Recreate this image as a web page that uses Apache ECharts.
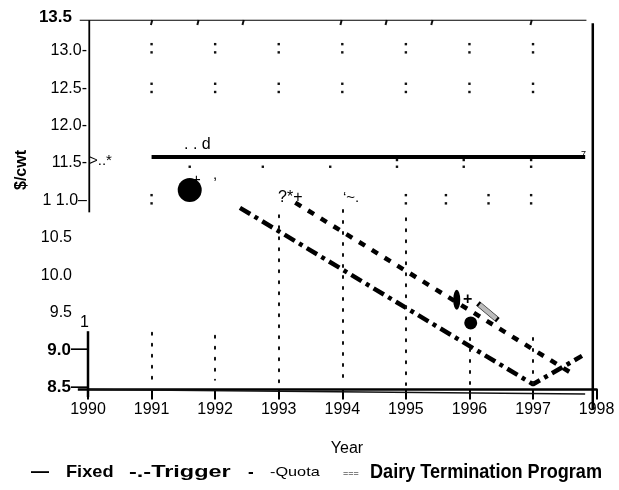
<!DOCTYPE html>
<html>
<head>
<meta charset="utf-8">
<script src="https://cdn.jsdelivr.net/npm/echarts@6/dist/echarts.min.js"></script>
<style>
  html, body { margin: 0; padding: 0; background: #fff; }
  #chart { width: 619px; height: 490px; }
</style>
</head>
<body>
<div id="chart"></div>
<script>
// Milk support price scenarios, $/cwt by year
const years = [1990, 1991, 1992, 1993, 1994, 1995, 1996, 1997, 1998];
const yTicks = [8.5, 9.0, 9.5, 10.0, 10.5, 11.0, 11.5, 12.0, 12.5, 13.0, 13.5];

const fixedPrice   = [[1991.0, 11.58], [1997.82, 11.58]];
const triggerPrice = [[1992.39, 10.90], [1997.0, 8.54], [1997.77, 8.92]];
const quotaPrice   = [[1993.26, 10.97], [1997.66, 8.66]];
const dtpPrice     = [[1990.0, 8.47], [1997.82, 8.41]];

// vertical dotted year guides: [year, from, to]
const yearGuides = [
  [1991, 9.23, 8.60], [1992, 9.19, 8.60], [1993, 10.80, 8.53],
  [1994, 10.87, 8.53], [1995, 10.76, 8.53], [1996, 9.16, 8.53], [1997, 9.16, 8.53]
];
// plot frame pieces: [x1, y1, x2, y2, width]
const framePieces = [
  [1989.87, 13.41, 1997.84, 13.41, 1.2],
  [1997.94, 13.37, 1997.94, 8.20, 2.5],
  [1990.02, 13.41, 1990.02, 10.84, 1.8],
  [1990.0, 9.25, 1990.0, 8.37, 2.5],
  [1989.84, 8.47, 1990.0, 8.47, 2.5]
];
// remnants of the dotted grid
const gridDots = [
  [1991, 13.09], [1991, 12.98], [1992, 13.09], [1992, 12.98], [1993, 13.09], [1993, 12.98],
  [1994, 13.09], [1994, 12.98], [1995, 13.09], [1995, 12.98], [1996, 13.09], [1996, 12.98],
  [1997, 13.09], [1997, 12.98],
  [1991, 12.56], [1991, 12.45], [1992, 12.56], [1992, 12.45], [1993, 12.56], [1993, 12.45],
  [1994, 12.56], [1994, 12.45], [1995, 12.56], [1995, 12.45], [1996, 12.56], [1996, 12.45],
  [1997, 12.56], [1997, 12.45],
  [1991, 11.07], [1991, 10.96], [1995, 11.07], [1995, 10.96], [1995.63, 11.07], [1995.63, 10.96],
  [1996.3, 11.07], [1996.3, 10.96], [1996.97, 11.07], [1996.97, 10.96],
  [1991.6, 11.45], [1992.75, 11.45], [1993.81, 11.45], [1994.86, 11.45], [1995.91, 11.45], [1996.97, 11.45],
  [1994.86, 11.54], [1995.91, 11.54], [1996.97, 11.54]
];
const commaMarks = [
  [1991.0, 13.38], [1991.73, 13.38], [1992.44, 13.38], [1993.98, 13.38],
  [1994.69, 13.38], [1995.41, 13.38], [1996.97, 13.38]
];
const blobs = [
  { value: [1991.60, 11.14], size: 24 },
  { value: [1996.02, 9.36], size: 13 },
  { value: [1995.80, 9.67], size: [7, 20] }
];

const chart = echarts.init(document.getElementById('chart'), null, { renderer: 'canvas' });
const FONT = "'Liberation Sans', Arial, sans-serif";

function yLabel(v) {
  const s = v.toFixed(1);
  if (v === 13.5) return '{top|' + s + '}{pad|}';
  if (v === 9.0 || v === 8.5) return '{b|' + s + '}{t|—}';
  if (v === 11.0) return '{n|1 1.0–}';
  if (v >= 11.5) return '{n|' + s + '-}';
  return '{n|' + s + '}{pad|}';
}

const guideLines = yearGuides.map(g => [
  { coord: [g[0], g[1]], lineStyle: { type: [2, 9], width: 2, color: '#111', cap: 'round' } },
  { coord: [g[0], g[2]] }
]);

function txt(x, y, text, font, align, sx) {
  return {
    type: 'text', x: x, y: y, scaleX: sx || 1, silent: true,
    style: { text: text, font: font, fill: '#000',
      textAlign: align || 'left', textVerticalAlign: 'middle',
      align: align || 'left', verticalAlign: 'middle' }
  };
}

const labels = [
  { type: 'text', x: 22, y: 170, rotation: Math.PI / 2, silent: true,
    style: { text: '$/cwt', font: "bold 16px " + FONT, fill: '#000',
      textAlign: 'center', textVerticalAlign: 'middle', align: 'center', verticalAlign: 'middle' } },
  txt(347, 449, 'Year', '16px ' + FONT, 'center'),
  // legend row
  txt(31, 472, '—', 'bold 18px ' + FONT),
  txt(66, 472, 'Fixed', 'bold 17px ' + FONT, 'left', 1.07),
  txt(129, 472, '-.-Trigger', 'bold 17px ' + FONT, 'left', 1.38),
  txt(248, 472, '-', 'bold 17px ' + FONT),
  txt(270, 472, '-Quota', '13px ' + FONT, 'left', 1.25),
  txt(343, 474, '===', '9px ' + FONT),
  txt(370, 472, 'Dairy Termination Program', 'bold 20px ' + FONT, 'left', 0.905),
  // stray marks
  txt(184, 145, '. . d', '16px ' + FONT),
  txt(89, 161, '>..*', '15px ' + FONT),
  txt(192, 180, '+', '15px ' + FONT),
  txt(213, 175, ',', '15px ' + FONT),
  txt(278, 198, '?*+', '16px ' + FONT),
  txt(343, 198, '‘~.', '15px ' + FONT),
  txt(80, 323, '1', '16px ' + FONT),
  txt(581, 155, '7', '9px ' + FONT),
  txt(463, 300, '+', 'bold 16px ' + FONT)
];

chart.setOption({
  animation: false,
  backgroundColor: '#fff',
  grid: { left: 88, right: 22.4, top: 13.5, bottom: 100.5 },
  xAxis: {
    type: 'value', min: 1990, max: 1998, interval: 1,
    axisLine: { show: true, lineStyle: { color: '#000', width: 2.5 } },
    axisTick: { show: true, length: 10, lineStyle: { color: '#000', width: 2 } },
    axisLabel: { color: '#000', fontSize: 16, fontFamily: FONT, margin: 12,
      formatter: v => String(v) },
    splitLine: { show: false }
  },
  yAxis: {
    type: 'value', min: 8.47, max: 13.5,
    axisLine: { show: false }, axisTick: { show: false }, splitLine: { show: false },
    axisLabel: {
      customValues: yTicks, margin: 1, formatter: yLabel,
      rich: {
        n: { fontSize: 16, fontFamily: FONT, color: '#000' },
        b: { fontSize: 17, fontWeight: 'bold', fontFamily: FONT, color: '#000' },
        top: { fontSize: 17, fontWeight: 'bold', fontFamily: FONT, color: '#000', padding: [8, 0, 0, 0] },
        t: { fontSize: 16, fontWeight: 'bold', fontFamily: FONT, color: '#000' },
        pad: { width: 15 }
      }
    }
  },
  series: [
    { name: 'Fixed', type: 'line', data: fixedPrice, symbol: 'none', clip: false,
      lineStyle: { color: '#000', width: 4 } },
    { name: 'Trigger', type: 'line', data: triggerPrice, symbol: 'none', clip: false,
      lineStyle: { color: '#000', width: 4.5, type: [12, 5, 4, 5] } },
    { name: 'Quota', type: 'line', data: quotaPrice, symbol: 'none', clip: false,
      lineStyle: { color: '#000', width: 4.5, type: [7, 8] } },
    { name: 'Dairy Termination Program', type: 'line', data: dtpPrice, symbol: 'none', clip: false,
      lineStyle: { color: '#111', width: 1.3 },
      markLine: { silent: true, symbol: ['none', 'none'], label: { show: false },
        data: guideLines } },
    { type: 'scatter', data: gridDots, symbol: 'rect', symbolSize: 2.4, clip: false,
      itemStyle: { color: '#111', opacity: 1 }, silent: true },
    { type: 'scatter', data: commaMarks, symbol: 'rect', symbolSize: [2, 5], symbolRotate: -15, clip: false,
      itemStyle: { color: '#111', opacity: 1 }, silent: true },
    { type: 'scatter', data: blobs.map(b => ({ value: b.value, symbolSize: b.size })),
      symbol: 'circle', clip: false, itemStyle: { color: '#000', opacity: 1 }, silent: true },
    { type: 'scatter', data: [[1996.29, 9.51]], symbol: 'rect', symbolSize: [24, 5], symbolRotate: -40,
      clip: false, itemStyle: { color: '#bbb', borderColor: '#000', borderWidth: 1, opacity: 1 }, silent: true }
  ]
});

// frame lines placed through the grid's own value-to-pixel conversion
const frameShapes = framePieces.map(p => {
  const a = chart.convertToPixel({ gridIndex: 0 }, [p[0], p[1]]);
  const b = chart.convertToPixel({ gridIndex: 0 }, [p[2], p[3]]);
  return { type: 'line', silent: true, z: 5,
    shape: { x1: a[0], y1: a[1], x2: b[0], y2: b[1] },
    style: { stroke: '#000', lineWidth: p[4] } };
});
chart.setOption({ graphic: frameShapes.concat(labels) });
</script>
</body>
</html>
